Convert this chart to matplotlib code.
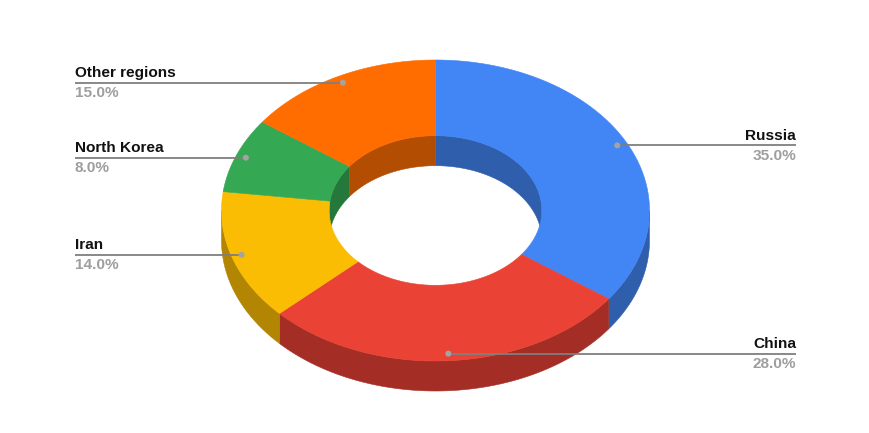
import matplotlib

matplotlib.use("Agg")
import matplotlib.pyplot as plt
import numpy as np
from matplotlib.patches import Ellipse, Polygon

plt.rcParams["font.family"] = ["Liberation Sans", "DejaVu Sans"]

# slices run clockwise from 12 o'clock
labels = ["Russia", "China", "Iran", "North Korea", "Other regions"]
shares = [35.0, 28.0, 14.0, 8.0, 15.0]
colors = ["#4285F4", "#EA4335", "#FBBC04", "#34A853", "#FF6D01"]
side_colors = ["#2F5EAD", "#A42E25", "#B28503", "#24783B", "#B34D01"]
on_right = [True, True, False, False, False]

# donut geometry, in image pixels
CX, CY = 435.5, 210.5
RX, RY = 214.0, 150.5
HOLE = 0.497
DEPTH = 30.0
LEADER_R = 0.953
TEXT_LEFT, TEXT_RIGHT = 75.0, 796.0


def rim(start, end, scale=1.0, dy=0.0):
    t = np.radians(np.linspace(start, end, max(int(abs(end - start)) * 2, 2)))
    return np.column_stack([CX + scale * RX * np.sin(t), CY + dy - scale * RY * np.cos(t)])


def overlap(a, b, lo, hi):
    return max(a, lo), min(b, hi)


fig = plt.figure(figsize=(8.7, 4.33), dpi=100)
ax = fig.add_axes([0, 0, 1, 1])
ax.set_xlim(0, 870)
ax.set_ylim(433, 0)
ax.axis("off")

edges = np.cumsum([0.0] + shares) * 3.6

# walls first: outer wall on the front half, inner wall on the back half of the hole
for i in range(len(shares)):
    a, b = edges[i], edges[i + 1]
    s, e = overlap(a, b, 90, 270)
    if e > s:
        pts = np.vstack([rim(s, e), rim(s, e, dy=DEPTH)[::-1]])
        ax.add_patch(Polygon(pts, fc=side_colors[i], ec=side_colors[i], lw=0.4, zorder=1))
    for lo, hi in [(0, 90), (270, 360)]:
        s, e = overlap(a, b, lo, hi)
        if e > s:
            pts = np.vstack([rim(s, e, HOLE), rim(s, e, HOLE, DEPTH)[::-1]])
            ax.add_patch(Polygon(pts, fc=side_colors[i], ec=side_colors[i], lw=0.4, zorder=1))

# top face
for i in range(len(shares)):
    a, b = edges[i], edges[i + 1]
    pts = np.vstack([rim(a, b), rim(a, b, HOLE)[::-1]])
    ax.add_patch(Polygon(pts, fc=colors[i], ec=colors[i], lw=0.4, zorder=2))

# leader lines and labels
for i, (name, val) in enumerate(zip(labels, shares)):
    mid = np.radians((edges[i] + edges[i + 1]) / 2)
    x = CX + LEADER_R * RX * np.sin(mid)
    y = CY - LEADER_R * RY * np.cos(mid)
    end = TEXT_RIGHT if on_right[i] else TEXT_LEFT
    ha = "right" if on_right[i] else "left"
    ax.plot([x, end], [y, y], color="#7f7f7f", lw=1.3, zorder=3, solid_capstyle="butt")
    ax.add_patch(Ellipse((x, y), 6, 6, fc="#a3a3a3", ec="none", zorder=4))
    ax.text(end, y - 2.5, name, ha=ha, va="bottom", fontsize=11.1, fontweight="bold",
            color="#111111", zorder=5)
    ax.text(end, y + 3.5, f"{val:.1f}%", ha=ha, va="top", fontsize=11.1, fontweight="bold",
            color="#9e9e9e", zorder=5)

fig.savefig("out.png", dpi=100, facecolor="white")
